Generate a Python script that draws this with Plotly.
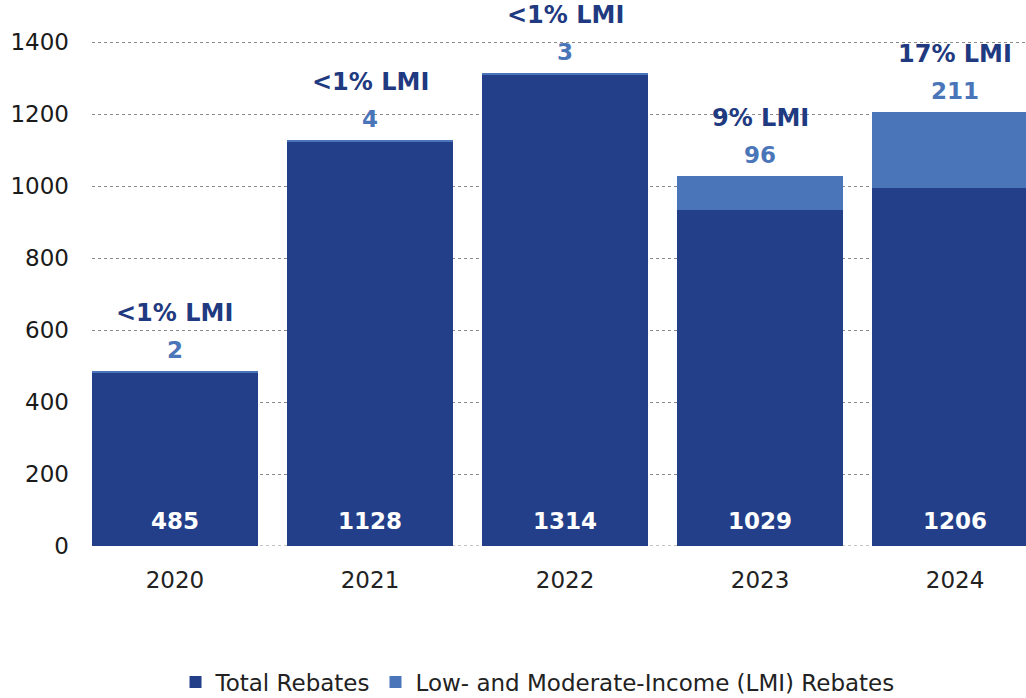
import plotly.graph_objects as go

years = ["2020", "2021", "2022", "2023", "2024"]
total_rebates = [485, 1128, 1314, 1029, 1206]
lmi_rebates = [2, 4, 3, 96, 211]
lmi_share_labels = ["&lt;1% LMI", "&lt;1% LMI", "&lt;1% LMI", "9% LMI", "17% LMI"]
y_ticks = [0, 200, 400, 600, 800, 1000, 1200, 1400]

NAVY = "#233F8A"
LIGHT = "#4A76B9"
LABEL_NAVY = "#1F3A80"

non_lmi = [t - l for t, l in zip(total_rebates, lmi_rebates)]

fig = go.Figure()
fig.add_trace(go.Bar(x=years, y=non_lmi, name="Total Rebates",
                     marker=dict(color=NAVY, line=dict(width=0)), hoverinfo="skip"))
fig.add_trace(go.Bar(x=years, y=lmi_rebates, name="Low- and Moderate-Income (LMI) Rebates",
                     marker=dict(color=LIGHT, line=dict(width=0)), hoverinfo="skip"))

annotations = []
for i, (tot, lmi, lab) in enumerate(zip(total_rebates, lmi_rebates, lmi_share_labels)):
    annotations.append(dict(x=i, y=tot, xref="x", yref="y", text="<b>" + lab + "</b>",
                            showarrow=False, yanchor="middle", yshift=58,
                            font=dict(family="DejaVu Sans", size=24, color=LABEL_NAVY)))
    annotations.append(dict(x=i, y=tot, xref="x", yref="y", text="<b>" + str(lmi) + "</b>",
                            showarrow=False, yanchor="middle", yshift=21,
                            font=dict(family="DejaVu Sans", size=23, color=LIGHT)))
    annotations.append(dict(x=i, y=0, xref="x", yref="y", text="<b>" + str(tot) + "</b>",
                            showarrow=False, yanchor="middle", yshift=25,
                            font=dict(family="DejaVu Sans", size=23, color="white")))

fig.add_shape(type="line", xref="paper", x0=0, x1=1, yref="y", y0=0, y1=0,
              line=dict(color="#8a8a8a", width=1, dash="dot"), layer="below")

fig.update_layout(
    width=1026, height=698,
    margin=dict(l=92, r=0, t=0, b=152),
    barmode="stack",
    bargap=0.149,
    plot_bgcolor="white", paper_bgcolor="white",
    showlegend=True,
    legend=dict(orientation="h", x=0.477, xanchor="center", yref="container",
                y=0.0229, yanchor="middle",
                font=dict(family="DejaVu Sans", size=23, color="#222222"),
                traceorder="normal", bgcolor="rgba(0,0,0,0)"),
    annotations=annotations,
    xaxis=dict(range=[-0.4256, 4.364], type="category", showgrid=False, showline=False,
               ticks="", tickfont=dict(family="DejaVu Sans", size=23, color="#222222"),
               ticklabelstandoff=18, automargin=False, fixedrange=True),
    yaxis=dict(range=[0, 1517], tickvals=y_ticks, showgrid=True, gridcolor="#8a8a8a",
               griddash="dot", gridwidth=1, zeroline=False, showline=False, ticks="",
               tickfont=dict(family="DejaVu Sans", size=23, color="#1a1a1a"),
               ticklabelstandoff=22, automargin=False, fixedrange=True),
)

fig.write_html("out.html", config={"displayModeBar": False},
               post_script="document.body.style.margin='0px';")
